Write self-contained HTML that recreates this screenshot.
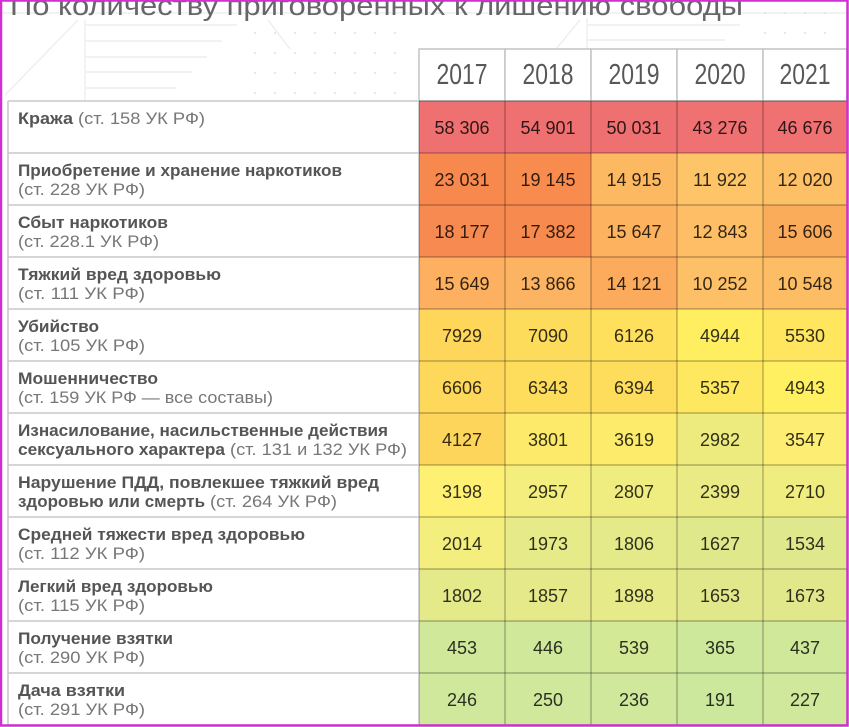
<!DOCTYPE html>
<html>
<head>
<meta charset="utf-8">
<style>
html,body{margin:0;padding:0;background:#fff;}
body{width:849px;height:727px;overflow:hidden;}
svg{display:block;}
.t{font-family:"Liberation Sans","Noto Sans CJK SC",sans-serif;}
.b{font-weight:bold;fill:#555;font-size:16.5px;}
.r{fill:#777;font-size:16.5px;}
.n{font-size:18px;fill:#000;fill-opacity:0.8;text-anchor:middle;}
.y{font-size:29px;fill:#585858;text-anchor:middle;}
</style>
</head>
<body>
<svg width="849" height="727" viewBox="0 0 849 727" xmlns="http://www.w3.org/2000/svg" class="t">
<rect x="0" y="0" width="849" height="727" fill="#fff"/>
<!-- faint decorations -->
<g stroke="#ebebeb" stroke-width="1.2" fill="none">
  <line x1="0" y1="13" x2="849" y2="13"/>
  <line x1="85" y1="25" x2="237" y2="25"/>
  <line x1="85" y1="41" x2="222" y2="41"/>
  <line x1="85" y1="57" x2="207" y2="57"/>
  <line x1="85" y1="72" x2="192" y2="72"/>
  <line x1="85" y1="88" x2="176" y2="88"/>
  <line x1="85" y1="20" x2="85" y2="101"/>
  <line x1="78" y1="20" x2="5" y2="95"/>
  <line x1="587" y1="25" x2="740" y2="25"/>
  <line x1="587" y1="40" x2="725" y2="40"/>
  <line x1="587" y1="18" x2="587" y2="49"/>
  <line x1="580" y1="20" x2="556" y2="49"/>
  <line x1="268" y1="20" x2="290" y2="49"/>
</g>
<g fill="#e0e0e0">
  <circle cx="255" cy="33" r="1"/><circle cx="275" cy="33" r="1"/><circle cx="295" cy="33" r="1"/><circle cx="315" cy="33" r="1"/><circle cx="335" cy="33" r="1"/><circle cx="355" cy="33" r="1"/><circle cx="375" cy="33" r="1"/><circle cx="395" cy="33" r="1"/>
  <circle cx="255" cy="53" r="1"/><circle cx="275" cy="53" r="1"/><circle cx="295" cy="53" r="1"/><circle cx="315" cy="53" r="1"/><circle cx="335" cy="53" r="1"/><circle cx="355" cy="53" r="1"/><circle cx="375" cy="53" r="1"/><circle cx="395" cy="53" r="1"/>
  <circle cx="255" cy="73" r="1"/><circle cx="275" cy="73" r="1"/><circle cx="295" cy="73" r="1"/><circle cx="315" cy="73" r="1"/><circle cx="335" cy="73" r="1"/><circle cx="355" cy="73" r="1"/><circle cx="375" cy="73" r="1"/><circle cx="395" cy="73" r="1"/>
  <circle cx="255" cy="93" r="1"/><circle cx="275" cy="93" r="1"/><circle cx="295" cy="93" r="1"/><circle cx="315" cy="93" r="1"/><circle cx="335" cy="93" r="1"/><circle cx="355" cy="93" r="1"/><circle cx="375" cy="93" r="1"/><circle cx="395" cy="93" r="1"/>
  <circle cx="765" cy="13" r="1"/><circle cx="785" cy="13" r="1"/><circle cx="805" cy="13" r="1"/><circle cx="825" cy="13" r="1"/>
  <circle cx="765" cy="33" r="1"/><circle cx="785" cy="33" r="1"/><circle cx="805" cy="33" r="1"/><circle cx="825" cy="33" r="1"/>
</g>
<!-- title -->
<text x="10" y="15" font-size="28" fill="#666" textLength="733" lengthAdjust="spacingAndGlyphs">По количеству приговоренных к лишению свободы</text>

<!-- header -->
<g stroke="#c4c4c4" stroke-width="1.5" fill="#fff">
  <rect x="419" y="49" width="86" height="52"/>
  <rect x="505" y="49" width="86" height="52"/>
  <rect x="591" y="49" width="86" height="52"/>
  <rect x="677" y="49" width="86" height="52"/>
  <rect x="763" y="49" width="84" height="52"/>
</g>
<text class="y" x="462" y="84" textLength="51" lengthAdjust="spacingAndGlyphs">2017</text>
<text class="y" x="548" y="84" textLength="51" lengthAdjust="spacingAndGlyphs">2018</text>
<text class="y" x="634" y="84" textLength="51" lengthAdjust="spacingAndGlyphs">2019</text>
<text class="y" x="720" y="84" textLength="51" lengthAdjust="spacingAndGlyphs">2020</text>
<text class="y" x="805" y="84" textLength="51" lengthAdjust="spacingAndGlyphs">2021</text>

<!-- data cells -->
<g>
  <rect x="419" y="101" width="86" height="52" fill="#ef7070"/>
  <rect x="505" y="101" width="86" height="52" fill="#ef7070"/>
  <rect x="591" y="101" width="86" height="52" fill="#ef7070"/>
  <rect x="677" y="101" width="86" height="52" fill="#ef7171"/>
  <rect x="763" y="101" width="84" height="52" fill="#ef7171"/>

  <rect x="419" y="153" width="86" height="52" fill="#f7894e"/>
  <rect x="505" y="153" width="86" height="52" fill="#f88b4e"/>
  <rect x="591" y="153" width="86" height="52" fill="#fcb962"/>
  <rect x="677" y="153" width="86" height="52" fill="#fdc468"/>
  <rect x="763" y="153" width="84" height="52" fill="#fdc066"/>

  <rect x="419" y="205" width="86" height="52" fill="#f78a50"/>
  <rect x="505" y="205" width="86" height="52" fill="#f78a4e"/>
  <rect x="591" y="205" width="86" height="52" fill="#fcb25e"/>
  <rect x="677" y="205" width="86" height="52" fill="#fdbe65"/>
  <rect x="763" y="205" width="84" height="52" fill="#fbac5a"/>

  <rect x="419" y="257" width="86" height="52" fill="#fcb060"/>
  <rect x="505" y="257" width="86" height="52" fill="#fcb462"/>
  <rect x="591" y="257" width="86" height="52" fill="#fbab5b"/>
  <rect x="677" y="257" width="86" height="52" fill="#fdc066"/>
  <rect x="763" y="257" width="84" height="52" fill="#fdbd65"/>

  <rect x="419" y="309" width="86" height="52" fill="#fed75a"/>
  <rect x="505" y="309" width="86" height="52" fill="#fedc5b"/>
  <rect x="591" y="309" width="86" height="52" fill="#fee05d"/>
  <rect x="677" y="309" width="86" height="52" fill="#ffef60"/>
  <rect x="763" y="309" width="84" height="52" fill="#ffe65e"/>

  <rect x="419" y="361" width="86" height="52" fill="#fed85a"/>
  <rect x="505" y="361" width="86" height="52" fill="#fedc5c"/>
  <rect x="591" y="361" width="86" height="52" fill="#fedd5c"/>
  <rect x="677" y="361" width="86" height="52" fill="#fee860"/>
  <rect x="763" y="361" width="84" height="52" fill="#fff062"/>

  <rect x="419" y="413" width="86" height="52" fill="#fdd55a"/>
  <rect x="505" y="413" width="86" height="52" fill="#fdea6a"/>
  <rect x="591" y="413" width="86" height="52" fill="#fdeb6c"/>
  <rect x="677" y="413" width="86" height="52" fill="#eeeb7e"/>
  <rect x="763" y="413" width="84" height="52" fill="#fded72"/>

  <rect x="419" y="465" width="86" height="52" fill="#fef073"/>
  <rect x="505" y="465" width="86" height="52" fill="#f3ee7e"/>
  <rect x="591" y="465" width="86" height="52" fill="#f0ed80"/>
  <rect x="677" y="465" width="86" height="52" fill="#eaeb84"/>
  <rect x="763" y="465" width="84" height="52" fill="#f0ed80"/>

  <rect x="419" y="517" width="86" height="52" fill="#f3ee7e"/>
  <rect x="505" y="517" width="86" height="52" fill="#e6ea88"/>
  <rect x="591" y="517" width="86" height="52" fill="#e4e98a"/>
  <rect x="677" y="517" width="86" height="52" fill="#e0e88c"/>
  <rect x="763" y="517" width="84" height="52" fill="#dfe88c"/>

  <rect x="419" y="569" width="86" height="52" fill="#e4e98a"/>
  <rect x="505" y="569" width="86" height="52" fill="#e5e989"/>
  <rect x="591" y="569" width="86" height="52" fill="#e7ea88"/>
  <rect x="677" y="569" width="86" height="52" fill="#e1e88b"/>
  <rect x="763" y="569" width="84" height="52" fill="#e1e88b"/>

  <rect x="419" y="621" width="86" height="52" fill="#cfe89a"/>
  <rect x="505" y="621" width="86" height="52" fill="#cfe89a"/>
  <rect x="591" y="621" width="86" height="52" fill="#d4e996"/>
  <rect x="677" y="621" width="86" height="52" fill="#cde89b"/>
  <rect x="763" y="621" width="84" height="52" fill="#cfe89a"/>

  <rect x="419" y="673" width="86" height="52" fill="#cfe89c"/>
  <rect x="505" y="673" width="86" height="52" fill="#cfe89c"/>
  <rect x="591" y="673" width="86" height="52" fill="#cfe89c"/>
  <rect x="677" y="673" width="86" height="52" fill="#cce89d"/>
  <rect x="763" y="673" width="84" height="52" fill="#cfe89c"/>
</g>
<!-- data grid lines -->
<g stroke="#000" stroke-opacity="0.32" stroke-width="1.2">
  <line x1="419" y1="101" x2="847" y2="101"/>
  <line x1="419" y1="153" x2="847" y2="153"/>
  <line x1="419" y1="205" x2="847" y2="205"/>
  <line x1="419" y1="257" x2="847" y2="257"/>
  <line x1="419" y1="309" x2="847" y2="309"/>
  <line x1="419" y1="361" x2="847" y2="361"/>
  <line x1="419" y1="413" x2="847" y2="413"/>
  <line x1="419" y1="465" x2="847" y2="465"/>
  <line x1="419" y1="517" x2="847" y2="517"/>
  <line x1="419" y1="569" x2="847" y2="569"/>
  <line x1="419" y1="621" x2="847" y2="621"/>
  <line x1="419" y1="673" x2="847" y2="673"/>
  <line x1="419" y1="725" x2="847" y2="725"/>
  <line x1="419" y1="101" x2="419" y2="725"/>
  <line x1="505" y1="101" x2="505" y2="725"/>
  <line x1="591" y1="101" x2="591" y2="725"/>
  <line x1="677" y1="101" x2="677" y2="725"/>
  <line x1="763" y1="101" x2="763" y2="725"/>
  <line x1="847" y1="101" x2="847" y2="725"/>
</g>
<!-- label column lines -->
<g stroke="#c8c8c8" stroke-width="1.6">
  <line x1="8" y1="101" x2="419" y2="101"/>
  <line x1="8" y1="153" x2="419" y2="153"/>
  <line x1="8" y1="205" x2="419" y2="205"/>
  <line x1="8" y1="257" x2="419" y2="257"/>
  <line x1="8" y1="309" x2="419" y2="309"/>
  <line x1="8" y1="361" x2="419" y2="361"/>
  <line x1="8" y1="413" x2="419" y2="413"/>
  <line x1="8" y1="465" x2="419" y2="465"/>
  <line x1="8" y1="517" x2="419" y2="517"/>
  <line x1="8" y1="569" x2="419" y2="569"/>
  <line x1="8" y1="621" x2="419" y2="621"/>
  <line x1="8" y1="673" x2="419" y2="673"/>
  <line x1="8" y1="725" x2="419" y2="725"/>
  <line x1="8" y1="101" x2="8" y2="725"/>
</g>

<!-- labels -->
<text class="b" x="18" y="124" textLength="55" lengthAdjust="spacingAndGlyphs">Кража</text>
<text class="r" x="78" y="124" textLength="127" lengthAdjust="spacingAndGlyphs">(ст. 158 УК РФ)</text>

<text class="b" x="18" y="176" textLength="324" lengthAdjust="spacingAndGlyphs">Приобретение и хранение наркотиков</text>
<text class="r" x="18" y="195" textLength="127" lengthAdjust="spacingAndGlyphs">(ст. 228 УК РФ)</text>

<text class="b" x="18" y="228" textLength="150" lengthAdjust="spacingAndGlyphs">Сбыт наркотиков</text>
<text class="r" x="18" y="247" textLength="141" lengthAdjust="spacingAndGlyphs">(ст. 228.1 УК РФ)</text>

<text class="b" x="18" y="280" textLength="203" lengthAdjust="spacingAndGlyphs">Тяжкий вред здоровью</text>
<text class="r" x="18" y="299" textLength="127" lengthAdjust="spacingAndGlyphs">(ст. 111 УК РФ)</text>

<text class="b" x="18" y="332" textLength="81" lengthAdjust="spacingAndGlyphs">Убийство</text>
<text class="r" x="18" y="351" textLength="127" lengthAdjust="spacingAndGlyphs">(ст. 105 УК РФ)</text>

<text class="b" x="18" y="384" textLength="140" lengthAdjust="spacingAndGlyphs">Мошенничество</text>
<text class="r" x="18" y="403" textLength="255" lengthAdjust="spacingAndGlyphs">(ст. 159 УК РФ — все составы)</text>

<text class="b" x="18" y="436" textLength="370" lengthAdjust="spacingAndGlyphs">Изнасилование, насильственные действия</text>
<text class="b" x="18" y="455" textLength="207" lengthAdjust="spacingAndGlyphs">сексуального характера</text>
<text class="r" x="230" y="455" textLength="177" lengthAdjust="spacingAndGlyphs">(ст. 131 и 132 УК РФ)</text>

<text class="b" x="18" y="488" textLength="361" lengthAdjust="spacingAndGlyphs">Нарушение ПДД, повлекшее тяжкий вред</text>
<text class="b" x="18" y="507" textLength="187" lengthAdjust="spacingAndGlyphs">здоровью или смерть</text>
<text class="r" x="210" y="507" textLength="127" lengthAdjust="spacingAndGlyphs">(ст. 264 УК РФ)</text>

<text class="b" x="18" y="540" textLength="287" lengthAdjust="spacingAndGlyphs">Средней тяжести вред здоровью</text>
<text class="r" x="18" y="559" textLength="127" lengthAdjust="spacingAndGlyphs">(ст. 112 УК РФ)</text>

<text class="b" x="18" y="592" textLength="195" lengthAdjust="spacingAndGlyphs">Легкий вред здоровью</text>
<text class="r" x="18" y="611" textLength="127" lengthAdjust="spacingAndGlyphs">(ст. 115 УК РФ)</text>

<text class="b" x="18" y="644" textLength="155" lengthAdjust="spacingAndGlyphs">Получение взятки</text>
<text class="r" x="18" y="663" textLength="127" lengthAdjust="spacingAndGlyphs">(ст. 290 УК РФ)</text>

<text class="b" x="18" y="696" textLength="107" lengthAdjust="spacingAndGlyphs">Дача взятки</text>
<text class="r" x="18" y="715" textLength="127" lengthAdjust="spacingAndGlyphs">(ст. 291 УК РФ)</text>

<!-- numbers -->
<g class="n">
  <text x="462" y="134">58 306</text><text x="548" y="134">54 901</text><text x="634" y="134">50 031</text><text x="720" y="134">43 276</text><text x="805" y="134">46 676</text>
  <text x="462" y="186">23 031</text><text x="548" y="186">19 145</text><text x="634" y="186">14 915</text><text x="720" y="186">11 922</text><text x="805" y="186">12 020</text>
  <text x="462" y="238">18 177</text><text x="548" y="238">17 382</text><text x="634" y="238">15 647</text><text x="720" y="238">12 843</text><text x="805" y="238">15 606</text>
  <text x="462" y="290">15 649</text><text x="548" y="290">13 866</text><text x="634" y="290">14 121</text><text x="720" y="290">10 252</text><text x="805" y="290">10 548</text>
  <text x="462" y="342">7929</text><text x="548" y="342">7090</text><text x="634" y="342">6126</text><text x="720" y="342">4944</text><text x="805" y="342">5530</text>
  <text x="462" y="394">6606</text><text x="548" y="394">6343</text><text x="634" y="394">6394</text><text x="720" y="394">5357</text><text x="805" y="394">4943</text>
  <text x="462" y="446">4127</text><text x="548" y="446">3801</text><text x="634" y="446">3619</text><text x="720" y="446">2982</text><text x="805" y="446">3547</text>
  <text x="462" y="498">3198</text><text x="548" y="498">2957</text><text x="634" y="498">2807</text><text x="720" y="498">2399</text><text x="805" y="498">2710</text>
  <text x="462" y="550">2014</text><text x="548" y="550">1973</text><text x="634" y="550">1806</text><text x="720" y="550">1627</text><text x="805" y="550">1534</text>
  <text x="462" y="602">1802</text><text x="548" y="602">1857</text><text x="634" y="602">1898</text><text x="720" y="602">1653</text><text x="805" y="602">1673</text>
  <text x="462" y="654">453</text><text x="548" y="654">446</text><text x="634" y="654">539</text><text x="720" y="654">365</text><text x="805" y="654">437</text>
  <text x="462" y="706">246</text><text x="548" y="706">250</text><text x="634" y="706">236</text><text x="720" y="706">191</text><text x="805" y="706">227</text>
</g>

<!-- magenta frame -->
<rect x="1" y="0.5" width="846.5" height="725" fill="none" stroke="#d22fd2" stroke-width="2.5"/>
</svg>
</body>
</html>
